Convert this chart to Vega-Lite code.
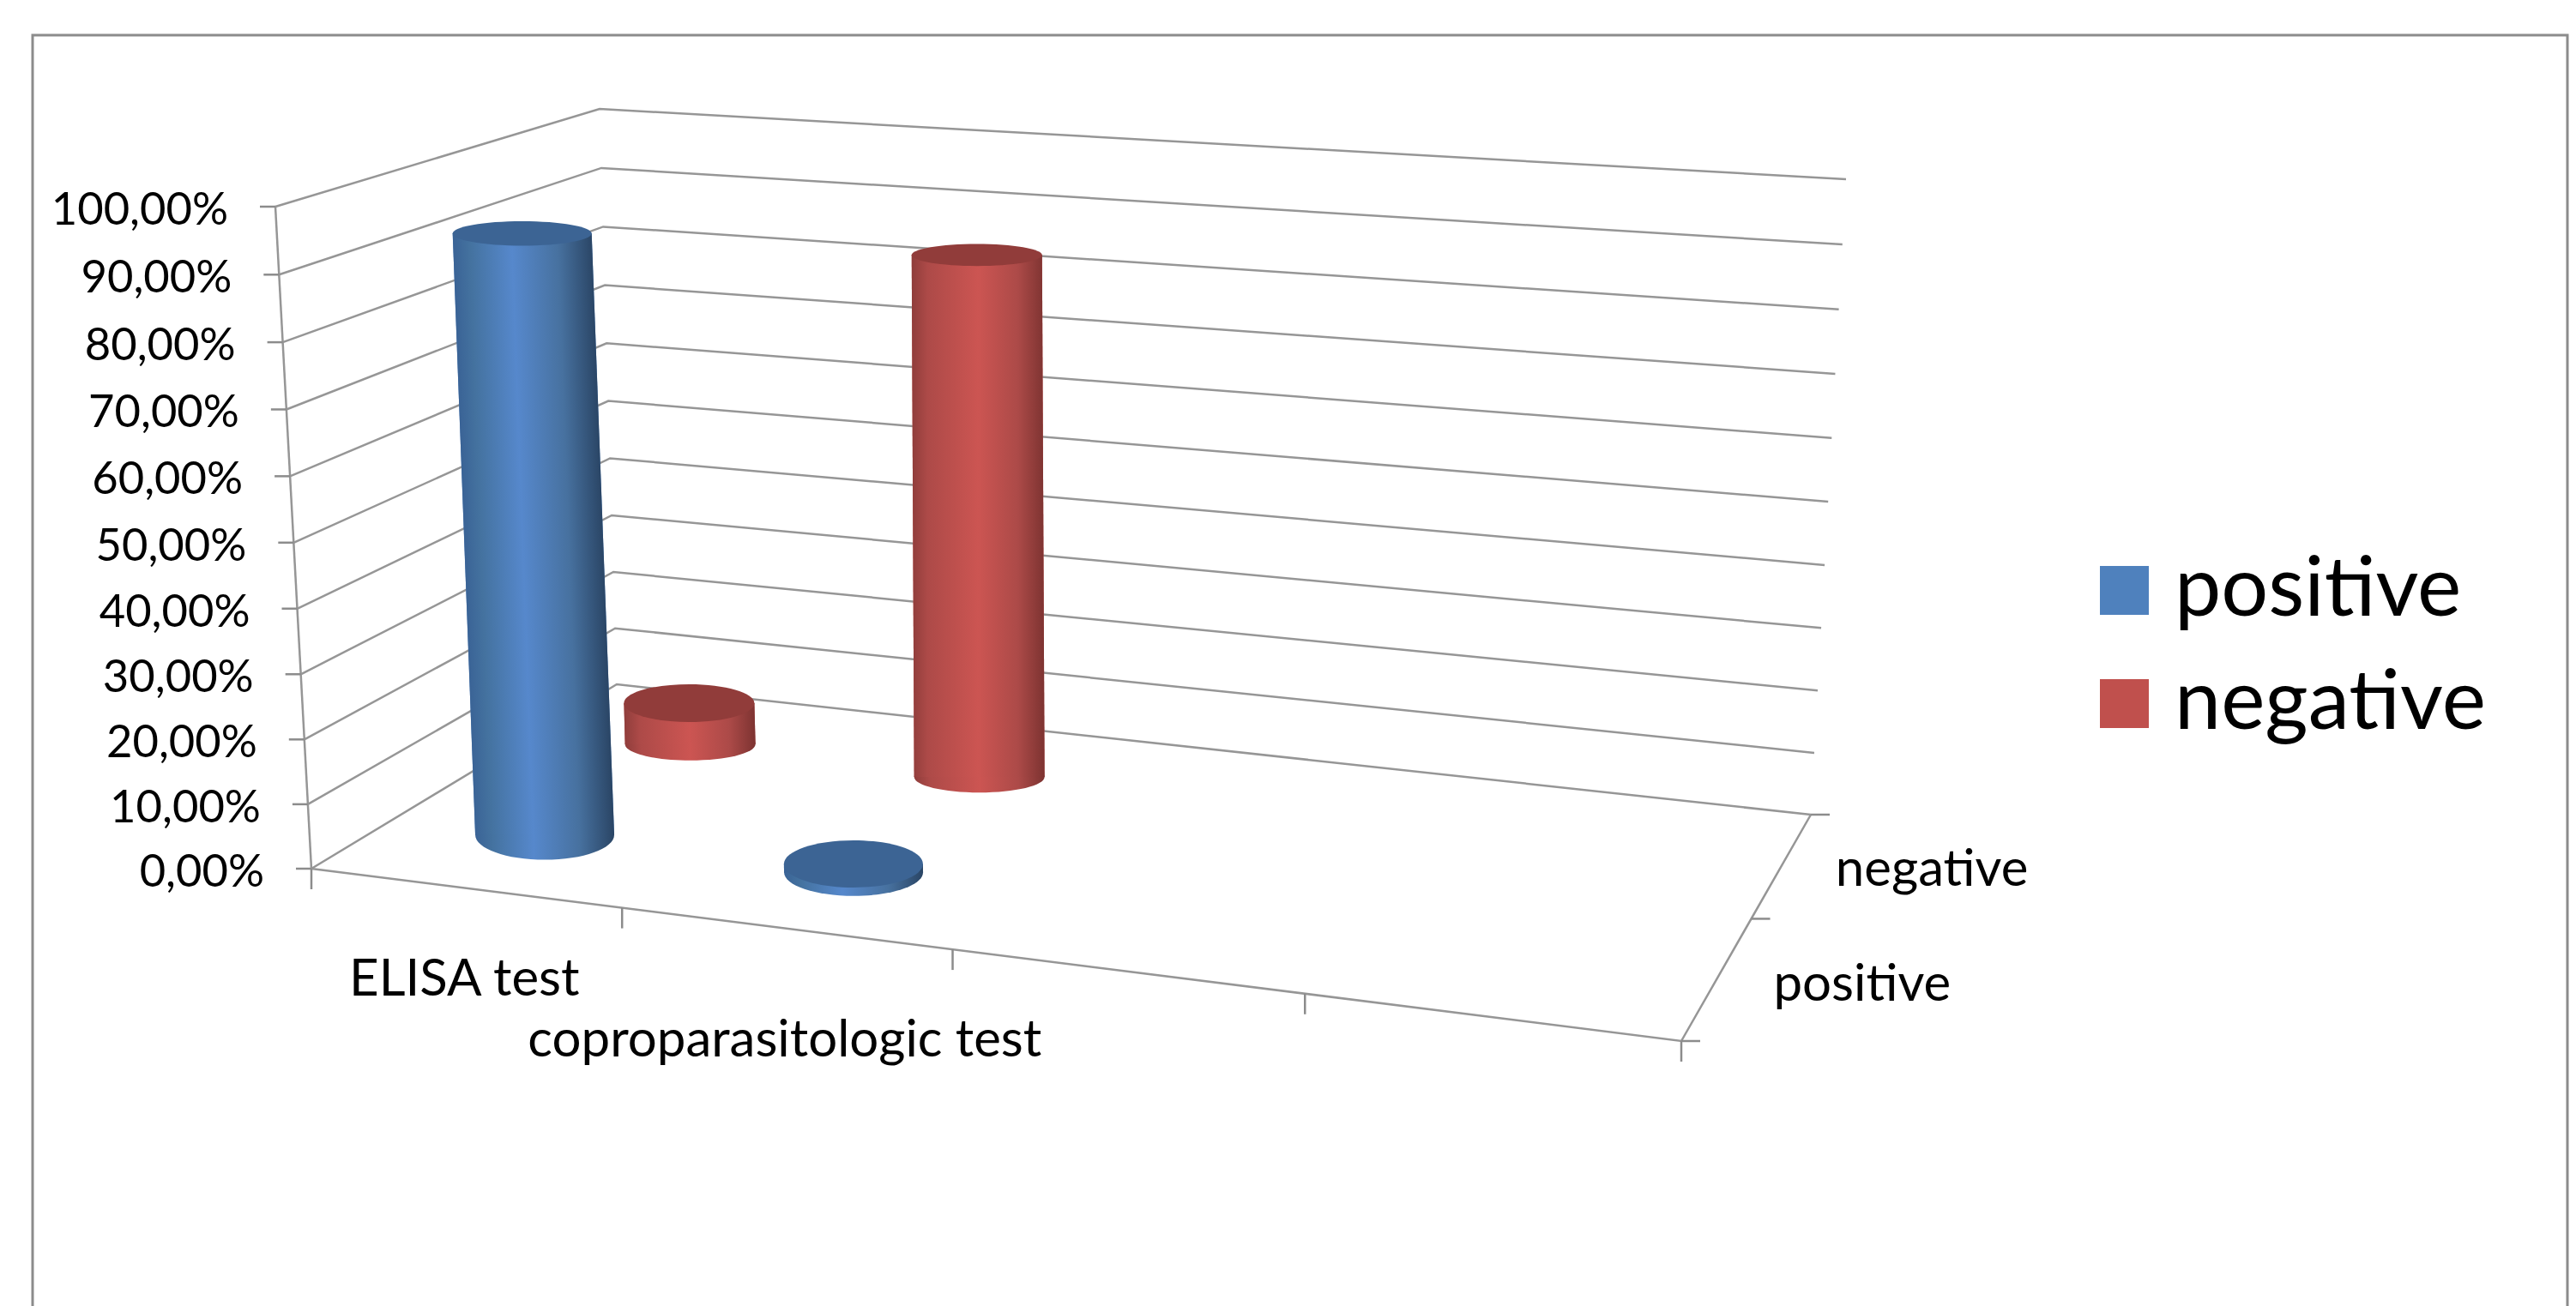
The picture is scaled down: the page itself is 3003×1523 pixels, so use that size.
{"$schema":"https://vega.github.io/schema/vega-lite/v6.json","autosize":{"type":"none"},"padding":{"left":38,"top":41,"right":10,"bottom":0},"width":2955,"height":1600,"background":"white","view":{"stroke":"#8c8c8c","strokeWidth":3},
"config":{"font":"Lato"},
"data":{"values":[
{"kind":"bar","category":"ELISA test","series":"positive","value":93.3},
{"kind":"bar","category":"ELISA test","series":"negative","value":7},
{"kind":"bar","category":"coproparasitologic test","series":"positive","value":1.3},
{"kind":"bar","category":"coproparasitologic test","series":"negative","value":84.8},
{"kind":"grid","value":0},{"kind":"grid","value":10},{"kind":"grid","value":20},{"kind":"grid","value":30},{"kind":"grid","value":40},{"kind":"grid","value":50},{"kind":"grid","value":60},{"kind":"grid","value":70},{"kind":"grid","value":80},{"kind":"grid","value":90},{"kind":"grid","value":100},
{"kind":"floor"},{"kind":"axis"},
{"kind":"xtick","pos":0},{"kind":"xtick","pos":1},{"kind":"xtick","pos":2},{"kind":"xtick","pos":3},{"kind":"xtick","pos":4},
{"kind":"dtick","pos":0},{"kind":"dtick","pos":1},{"kind":"dtick","pos":2},
{"kind":"category","category":"ELISA test"},{"kind":"category","category":"coproparasitologic test"},
{"kind":"depth","series":"positive"},{"kind":"depth","series":"negative"}
]},
"transform":[
{"calculate":"indexof(['ELISA test','coproparasitologic test'],datum.category)","as":"i"},
{"calculate":"(datum.i+0.5)/4","as":"ct"},
{"calculate":"datum.series==='positive'?0.25:0.73","as":"cd"},
{"calculate":"datum.kind==='bar'?[[datum.ct,datum.cd,0,0],[datum.ct,datum.cd,datum.value,1]]:datum.kind==='grid'?[[0,0,datum.value,0],[0,1,datum.value,1],[1,1,datum.value,2]]:datum.kind==='floor'?[[0,0,0,0],[1,0,0,1],[1,1,0,2]]:datum.kind==='axis'?[[0,0,0,0],[0,0,100,1]]:datum.kind==='xtick'?[[datum.pos/4,0,0,0]]:datum.kind==='dtick'?[[1,datum.pos/2,0,0]]:datum.kind==='category'?[[datum.ct,0,0,0]]:[[1,datum.cd,0,0]]","as":"pts"},
{"flatten":["pts"],"as":["pt"]},
{"calculate":"datum.pt[0]*0.88/(1-0.12*datum.pt[0])","as":"u"},
{"calculate":"datum.pt[1]*1.174/(1+0.174*datum.pt[1])","as":"v"},
{"calculate":"datum.pt[2]/100-0.03*(datum.pt[2]/100)*(1-datum.pt[2]/100)","as":"h"},
{"calculate":"datum.pt[3]","as":"seq"},
{"calculate":"(1-datum.v)*(363+datum.u*1597)+datum.v*(719+datum.u*1392)","as":"fx"},
{"calculate":"(1-datum.v)*(1013+datum.u*201)+datum.v*(798+datum.u*152)","as":"fy"},
{"calculate":"(1-datum.v)*(321+datum.u*1667)+datum.v*(699+datum.u*1453)","as":"tx"},
{"calculate":"(1-datum.v)*(241+datum.u*110)+datum.v*(127+datum.u*82)","as":"ty"},
{"calculate":"datum.fx+(datum.tx-datum.fx)*datum.h+(datum.kind==='bar'&&datum.series==='negative'?10:0)","as":"px"},
{"calculate":"datum.fy+(datum.ty-datum.fy)*datum.h","as":"py"},
{"calculate":"datum.kind+'|'+datum.value","as":"lid"},
{"calculate":"datum.category+'|'+datum.series+'|'+datum.seq","as":"cap"},
{"calculate":"datum.series==='positive'?81:76","as":"r"},
{"calculate":"datum.px-datum.r","as":"xl"},
{"calculate":"datum.px+datum.r","as":"xr"}
],
"encoding":{
"x":{"field":"px","type":"quantitative","axis":null,"scale":{"domain":[38,2993],"nice":false,"zero":false}},
"y":{"field":"py","type":"quantitative","axis":null,"scale":{"domain":[1641,41],"nice":false,"zero":false}}
},
"layer":[
{"transform":[{"filter":"datum.kind==='grid'||datum.kind==='floor'||datum.kind==='axis'"}],"mark":{"type":"line","color":"#969696","strokeWidth":2.5},"encoding":{"detail":{"field":"lid"},"order":{"field":"seq","type":"quantitative"}}},
{"transform":[{"filter":"datum.kind==='grid'&&datum.seq===0"},{"calculate":"datum.px-18","as":"a"}],"mark":{"type":"rule","color":"#8c8c8c","strokeWidth":2.5},"encoding":{"x":{"field":"a","type":"quantitative"},"x2":{"field":"px"}}},
{"transform":[{"filter":"datum.kind==='dtick'"},{"calculate":"datum.px+22","as":"a"}],"mark":{"type":"rule","color":"#8c8c8c","strokeWidth":2.5},"encoding":{"x2":{"field":"a"}}},
{"transform":[{"filter":"datum.kind==='xtick'"},{"calculate":"datum.py+24","as":"a"}],"mark":{"type":"rule","color":"#8c8c8c","strokeWidth":2.5},"encoding":{"y2":{"field":"a"}}},
{"transform":[{"filter":"datum.kind==='grid'&&datum.seq===0"},{"calculate":"datum.px-55","as":"a"},{"calculate":"datum.py+5","as":"b"},{"calculate":"replace(format(datum.value,'.2f'),'.',',')+'%'","as":"label"}],"mark":{"type":"text","align":"right","baseline":"middle","fontSize":52.5,"font":"Lato","color":"black"},"encoding":{"x":{"field":"a","type":"quantitative"},"y":{"field":"b","type":"quantitative"},"text":{"field":"label"}}},
{"transform":[{"filter":"datum.kind==='category'"},{"calculate":"datum.py+108+24*datum.i","as":"a"}],"mark":{"type":"text","align":"center","baseline":"middle","fontSize":60,"font":"Lato","color":"black"},"encoding":{"y":{"field":"a","type":"quantitative"},"text":{"field":"category"}}},
{"transform":[{"filter":"datum.kind==='depth'"},{"calculate":"datum.px+65","as":"a"},{"calculate":"datum.py+(datum.series==='positive'?9:2)","as":"b"}],"mark":{"type":"text","align":"left","baseline":"middle","fontSize":60,"font":"Lato","color":"black"},"encoding":{"x":{"field":"a","type":"quantitative"},"y":{"field":"b","type":"quantitative"},"text":{"field":"series"}}},
{"transform":[{"filter":"datum.kind==='bar'"}],"mark":{"type":"area","orient":"horizontal"},"encoding":{"x":{"field":"xl","type":"quantitative"},"x2":{"field":"xr"},"detail":{"field":"category"},"color":{"field":"series","type":"nominal","scale":{"domain":["positive","negative"],"range":["#4F81BD","#C0504D"]},"legend":{"title":null,"orient":"none","legendX":2390,"legendY":599,"symbolType":"square","symbolSize":3249,"symbolStrokeWidth":0,"labelFontSize":97,"labelFont":"Lato","labelColor":"black","labelOffset":10,"labelLimit":600,"rowPadding":34,"padding":0}}}},
{"transform":[{"filter":"datum.kind==='bar'&&datum.series==='negative'&&datum.seq===0"}],"mark":{"type":"point","filled":true,"opacity":1,"size":23104,"strokeWidth":0,"fill":{"gradient":"linear","x1":0,"x2":1,"y1":0,"y2":0,"stops":[{"offset":0,"color":"#8f3d3b"},{"offset":0.12,"color":"#ad4a48"},{"offset":0.5,"color":"#cc5552"},{"offset":0.8,"color":"#ac4a48"},{"offset":1,"color":"#7d3331"}]}},"encoding":{"shape":{"field":"cap","type":"nominal","legend":null,"scale":{"domain":["ELISA test|positive|0","ELISA test|positive|1","ELISA test|negative|0","ELISA test|negative|1","coproparasitologic test|positive|0","coproparasitologic test|positive|1","coproparasitologic test|negative|0","coproparasitologic test|negative|1"],"range":["M-1,0A1,0.36,0,1,1,1,0A1,0.36,0,1,1,-1,0Z","M-1,0A1,0.176,0,1,1,1,0A1,0.176,0,1,1,-1,0Z","M-1,0A1,0.25,0,1,1,1,0A1,0.25,0,1,1,-1,0Z","M-1,0A1,0.29,0,1,1,1,0A1,0.29,0,1,1,-1,0Z","M-1,0A1,0.34,0,1,1,1,0A1,0.34,0,1,1,-1,0Z","M-1,0A1,0.34,0,1,1,1,0A1,0.34,0,1,1,-1,0Z","M-1,0A1,0.24,0,1,1,1,0A1,0.24,0,1,1,-1,0Z","M-1,0A1,0.17,0,1,1,1,0A1,0.17,0,1,1,-1,0Z"]}}}},
{"transform":[{"filter":"datum.kind==='bar'&&datum.series==='negative'"}],"mark":{"type":"area","orient":"horizontal","fill":{"gradient":"linear","x1":0,"x2":1,"y1":0,"y2":0,"stops":[{"offset":0,"color":"#8f3d3b"},{"offset":0.12,"color":"#ad4a48"},{"offset":0.5,"color":"#cc5552"},{"offset":0.8,"color":"#ac4a48"},{"offset":1,"color":"#7d3331"}]}},"encoding":{"x":{"field":"xl","type":"quantitative"},"x2":{"field":"xr"},"detail":{"field":"category"}}},
{"transform":[{"filter":"datum.kind==='bar'&&datum.series==='negative'&&datum.seq===1"}],"mark":{"type":"point","filled":true,"opacity":1,"size":23104,"strokeWidth":0,"fill":"#913c3a"},"encoding":{"shape":{"field":"cap","type":"nominal","legend":null}}},
{"transform":[{"filter":"datum.kind==='bar'&&datum.series==='positive'&&datum.seq===0"}],"mark":{"type":"point","filled":true,"opacity":1,"size":26244,"strokeWidth":0,"fill":{"gradient":"linear","x1":0,"x2":1,"y1":0,"y2":0,"stops":[{"offset":0,"color":"#3a6396"},{"offset":0.12,"color":"#44729f"},{"offset":0.42,"color":"#5688cc"},{"offset":0.75,"color":"#47719f"},{"offset":1,"color":"#2a4565"}]}},"encoding":{"shape":{"field":"cap","type":"nominal","legend":null}}},
{"transform":[{"filter":"datum.kind==='bar'&&datum.series==='positive'"}],"mark":{"type":"area","orient":"horizontal","fill":{"gradient":"linear","x1":0,"x2":0.85,"y1":0,"y2":-0.115,"stops":[{"offset":0,"color":"#3a6396"},{"offset":0.12,"color":"#44729f"},{"offset":0.42,"color":"#5688cc"},{"offset":0.75,"color":"#47719f"},{"offset":1,"color":"#2a4565"}]}},"encoding":{"x":{"field":"xl","type":"quantitative"},"x2":{"field":"xr"},"detail":{"field":"category"}}},
{"transform":[{"filter":"datum.kind==='bar'&&datum.series==='positive'&&datum.seq===1"}],"mark":{"type":"point","filled":true,"opacity":1,"size":26244,"strokeWidth":0,"fill":"#3c6494"},"encoding":{"shape":{"field":"cap","type":"nominal","legend":null}}}
]}
